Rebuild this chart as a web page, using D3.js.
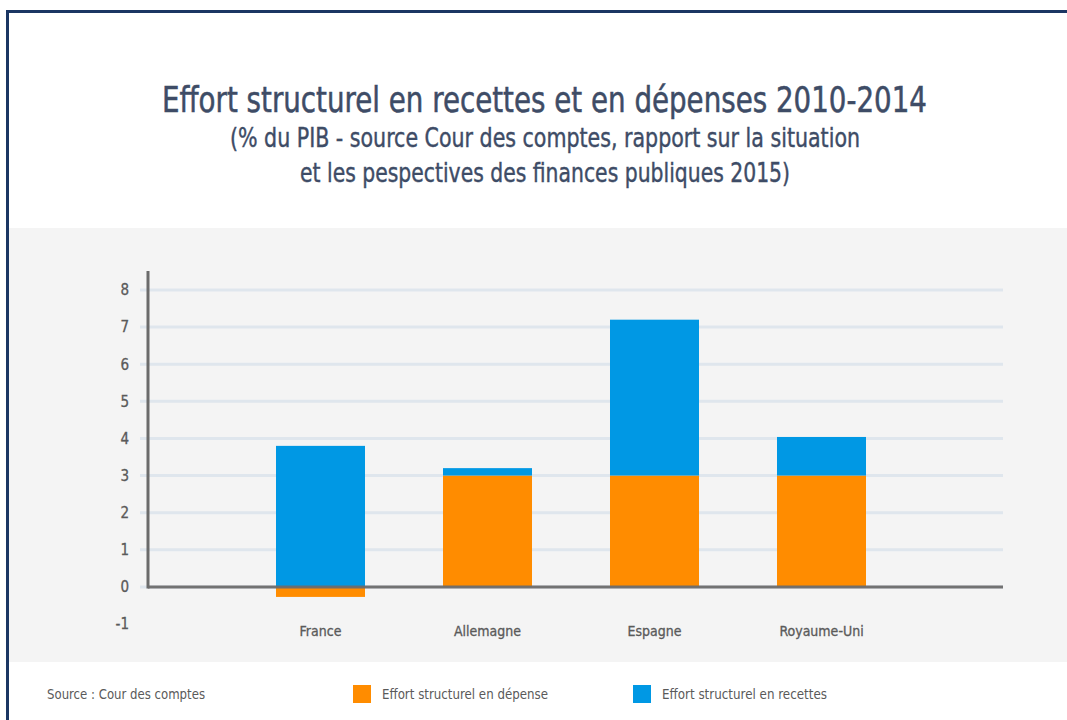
<!DOCTYPE html>
<html><head><meta charset="utf-8">
<script src="https://cdn.jsdelivr.net/npm/d3@7"></script>
<style>
html,body{margin:0;padding:0;background:#fff;}
text{font-family:"Liberation Sans Narrow","DejaVu Sans Condensed","Roboto",sans-serif;}
</style></head>
<body>
<svg id="chart" width="1067" height="720"></svg>
<script>
const categories = ["France", "Allemagne", "Espagne", "Royaume-Uni"];
const depense = [-0.27, 3.0, 3.0, 3.0];
const recettes = [3.8, 0.2, 4.2, 1.04];
const yTicks = [-1, 0, 1, 2, 3, 4, 5, 6, 7, 8];
const seriesNames = ["Effort structurel en dépense", "Effort structurel en recettes"];
const colors = ["#ff8c00", "#0098e4"];

const svg = d3.select("#chart");
svg.append("rect").attr("x",0).attr("y",0).attr("width",1067).attr("height",720).attr("fill","#fff");
// grey panel
svg.append("rect").attr("x",8).attr("y",228).attr("width",1059).attr("height",434).attr("fill","#f4f4f4");
// frame
svg.append("path").attr("d","M7.5,720 V11.5 H1067").attr("fill","none").attr("stroke","#1b3663").attr("stroke-width",3);

const title = "#3e4c66";
function txt(s, x, y, size, len, color, anchor){
  const t = svg.append("text").attr("x",x).attr("y",y).attr("font-size",size)
    .attr("fill",color).text(s);
  if (anchor) t.attr("text-anchor",anchor);
  if (len) t.attr("textLength",len).attr("lengthAdjust","spacingAndGlyphs");
  return t;
}
txt("Effort structurel en recettes et en dépenses 2010-2014", 162, 112, 35, 765, title).attr("stroke",title).attr("stroke-width",0.5);
txt("(% du PIB - source Cour des comptes, rapport sur la situation", 230, 147, 26, 630, title).attr("stroke",title).attr("stroke-width",0.4);
txt("et les pespectives des finances publiques 2015)", 300, 182, 26, 490, title).attr("stroke",title).attr("stroke-width",0.4);

const y = d3.scaleLinear().domain([-1, 8]).range([624, 290]);
const x = d3.scaleBand().domain(categories).range([237, 905]).paddingInner(0.467).paddingOuter(0.2335);

// gridlines
svg.append("g").selectAll("line").data(yTicks.filter(d => d >= 0)).join("line")
  .attr("x1",140).attr("x2",1003).attr("y1",d=>y(d)).attr("y2",d=>y(d))
  .attr("stroke","#dfe6ed").attr("stroke-width",3);

// y tick labels
const yAxis = d3.axisLeft(y).tickValues(yTicks).tickSize(0).tickPadding(0).tickFormat(d => String(d));
const ga = svg.append("g").attr("transform","translate(129,0)").call(yAxis);
ga.select(".domain").remove();
ga.selectAll("text").attr("font-size",15).attr("fill","#5a5a5a")
  .attr("stroke","#5a5a5a").attr("stroke-width",0.3)
  .attr("font-family",'"Liberation Sans Narrow","DejaVu Sans Condensed",sans-serif');

// bars
const stackData = categories.map((c,i)=>({cat:c, dep:depense[i], rec:recettes[i]}));
const g = svg.append("g");
stackData.forEach(d=>{
  const segs = [];
  let pos = 0, neg = 0;
  [[d.dep,0],[d.rec,1]].forEach(([v,k])=>{
    if (v >= 0){ segs.push({y0:pos, y1:pos+v, k}); pos += v; }
    else { segs.push({y0:neg+v, y1:neg, k}); neg += v; }
  });
  segs.forEach(s=>{
    g.append("rect").attr("x",x(d.cat)).attr("width",x.bandwidth())
      .attr("y",y(s.y1)).attr("height",y(s.y0)-y(s.y1)).attr("fill",colors[s.k]);
  });
});

// axes lines
svg.append("line").attr("x1",148).attr("x2",1003).attr("y1",y(0)).attr("y2",y(0))
  .attr("stroke","#6b6b6b").attr("stroke-width",3).attr("stroke-opacity",0.95);
svg.append("line").attr("x1",148).attr("x2",148).attr("y1",271).attr("y2",y(0)+1.5)
  .attr("stroke","#6b6b6b").attr("stroke-width",3);

// category labels
const xAxis = d3.axisBottom(x).tickSize(0).tickPadding(0);
const gx = svg.append("g").attr("transform","translate(0,626)").call(xAxis);
gx.select(".domain").remove();
gx.selectAll("text").attr("font-size",14).attr("fill","#5a5a5a")
  .attr("stroke","#5a5a5a").attr("stroke-width",0.3)
  .attr("font-family",'"Liberation Sans Narrow","DejaVu Sans Condensed",sans-serif');

// footer legend
txt("Source : Cour des comptes", 47, 699, 14, 158, "#5a5a5a");
const legX = [353, 633], legLen = [166, 165];
seriesNames.forEach((n,i)=>{
  svg.append("rect").attr("x",legX[i]).attr("y",685).attr("width",18).attr("height",18).attr("fill",colors[i]);
  txt(n, legX[i]+29, 699, 14, legLen[i], "#5a5a5a");
});
</script>
</body></html>
